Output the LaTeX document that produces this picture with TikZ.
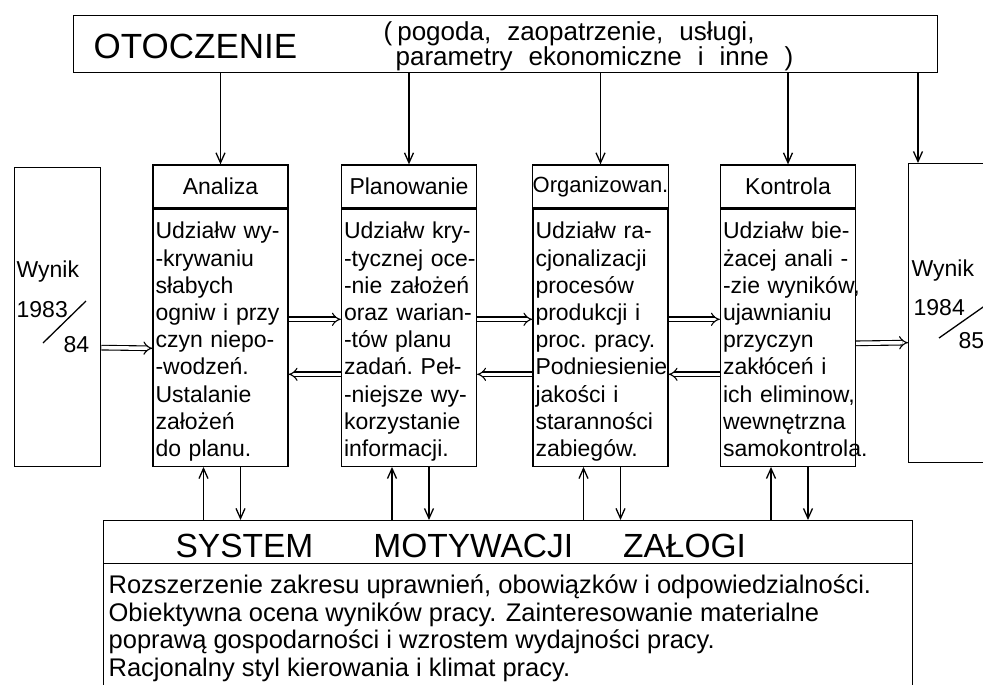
\documentclass[tikz,border=0pt]{standalone}
\usepackage{fontspec}
\setmainfont{Liberation Sans}
\usetikzlibrary{arrows.meta,positioning}

\begin{document}
\begin{tikzpicture}[
    x=1pt, y=-1pt,
    line width=1.3pt,
    frame/.style={draw, rectangle, inner sep=0pt},
    head/.style={draw, rectangle, minimum width=135pt, minimum height=43pt, inner sep=0pt, font=\fontsize{23}{27}\selectfont},
    body/.style={draw, rectangle, minimum width=135pt, minimum height=257pt, inner sep=0pt},
    note/.style={anchor=north west, inner sep=0pt, text width=131pt, align=left,
        font={\fontsize{23}{27.2}\selectfont\hyphenpenalty=10000\exhyphenpenalty=10000}},
    txt/.style={inner sep=0pt, anchor=base west, font=\fontsize{23}{27}\selectfont},
    feed/.style={-{Straight Barb[length=10pt, width=9pt]}},
    dbl/.style={double, double distance=3.5pt, line width=1.1pt, -{Implies[scale=1.5]}}
]
    \useasboundingbox (0,0) rectangle (983,685);
    \clip (0,0) rectangle (983,685);

    % Environment at top
    \node[frame, minimum width=864pt, minimum height=57pt, anchor=north west] (env) at (73,15) {};
    \node[txt, font=\fontsize{35}{40}\selectfont] (envname) at (93,59) {OTOCZENIE};
    \node[txt, font={\fontsize{26}{27}\selectfont\spaceskip=16pt}] (envlistA) at (383,41) {(\hspace{5pt}pogoda, zaopatrzenie, usługi,};
    \node[txt, font={\fontsize{26}{27}\selectfont\spaceskip=16pt}] (envlistB) at (395,66) {parametry ekonomiczne i inne )};

    % Result boxes left and right
    \node[frame, minimum width=86pt, minimum height=299pt, anchor=north west] (wynikL) at (14,167) {};
    \node[txt] (wL1) at (16,277) {Wynik};
    \node[txt] (wL2) at (16,317) {1983};
    \node[txt] (wL3) at (63,352) {84};
    \draw (43,343) -- (86,301);

    \node[frame, minimum width=150pt, minimum height=299pt, anchor=north west] (wynikR) at (908,163) {};
    \node[txt] (wR1) at (911,276) {Wynik};
    \node[txt] (wR2) at (913,315) {1984};
    \node[txt] (wR3) at (958,348) {85};
    \draw (939,338) -- (986,305);

    % Management functions
    \node[head] (hA) at (220.5,186.5) {Analiza};
    \node[head] (hP) at (409,186.5) {Planowanie};
    \node[head, font=\fontsize{22}{27}\selectfont] (hO) at (600.5,186.5) {Organizowan.};
    \node[head] (hK) at (788,186.5) {Kontrola};

    \foreach \h/\b in {hA/bA, hP/bP, hO/bO, hK/bK}
        \node[body, below=0pt of \h] (\b) {};

    \node[note] (tA) at ([xshift=2.5pt, yshift=-13pt]bA.north west) {Udziałw~wy-\\-krywaniu\\słabych\\ogniw~i~przy\\czyn~niepo-\\-wodzeń.\\Ustalanie\\założeń\\do~planu.};
    \node[note] (tP) at ([xshift=2.5pt, yshift=-13pt]bP.north west) {Udziałw~kry-\\-tycznej~oce-\\-nie~założeń\\oraz~warian-\\-tów~planu\\zadań.~Peł-\\-niejsze~wy-\\korzystanie\\informacji.};
    \node[note] (tO) at ([xshift=2.5pt, yshift=-13pt]bO.north west) {Udziałw~ra-\\cjonalizacji\\procesów\\produkcji~i\\proc.~pracy.\\Podniesienie\\jakości~i\\staranności\\zabiegów.};
    \node[note] (tK) at ([xshift=2.5pt, yshift=-13pt]bK.north west) {Udziałw~bie-\\żacej~anali~-\\-zie~wyników,\\ujawnianiu\\przyczyn\\zakłóceń~i\\ich~eliminow,\\wewnętrzna\\samokontrola.};

    % Staff motivation at bottom
    \node[frame, minimum width=809pt, minimum height=43pt, anchor=north west] (sys) at (103,520) {};
    \node[frame, minimum width=809pt, minimum height=140pt, anchor=north west] (sysbody) at (103,563) {};
    \node[txt, font=\fontsize{33.5}{40}\selectfont] (systitle) at (175,557) {SYSTEM\hspace{60pt}MOTYWACJI\hspace{50pt}ZAŁOGI};
    \node[txt, anchor=north west, align=left, font=\fontsize{25.5}{27.7}\selectfont] (sysitems) at (108,574)
        {Rozszerzenie zakresu uprawnień, obowiązków i odpowiedzialności.\\
         Obiektywna ocena wyników pracy. Zainteresowanie materialne\\
         poprawą gospodarności i wzrostem wydajności pracy.\\
         Racjonalny styl kierowania i klimat pracy.};

    % Environment feeds every function
    \foreach \h in {hA,hP,hO,hK}
        \draw[feed] (env.south -| \h.north) -- (\h.north);
    \coordinate (wRin) at ([xshift=10pt]wynikR.north west);
    \draw[feed] (env.south -| wRin) -- (wRin);

    % Links with the motivation system
    \foreach \b in {bA,bP,bO,bK}{
        \coordinate (up) at ([xshift=-17pt]\b.south);
        \coordinate (dn) at ([xshift=20pt]\b.south);
        \draw[feed] (up |- sys.north) -- (up);
        \draw[feed] (dn) -- (dn |- sys.north);
    }

    % Double flows between functions
    \draw[dbl] ([yshift=-30.5pt]wynikL.east) -- ([yshift=-10.5pt]bA.west);
    \foreach \a/\b in {bA/bP, bP/bO, bO/bK}{
        \draw[dbl] ([yshift=18.5pt]\a.east) -- ([yshift=18.5pt]\b.west);
        \draw[dbl] ([yshift=-36.5pt]\b.west) -- ([yshift=-36.5pt]\a.east);
    }
    \draw[dbl] ([yshift=-5.5pt]bK.east) -- ([yshift=-29.5pt]wynikR.west);

\end{tikzpicture}
\end{document}
